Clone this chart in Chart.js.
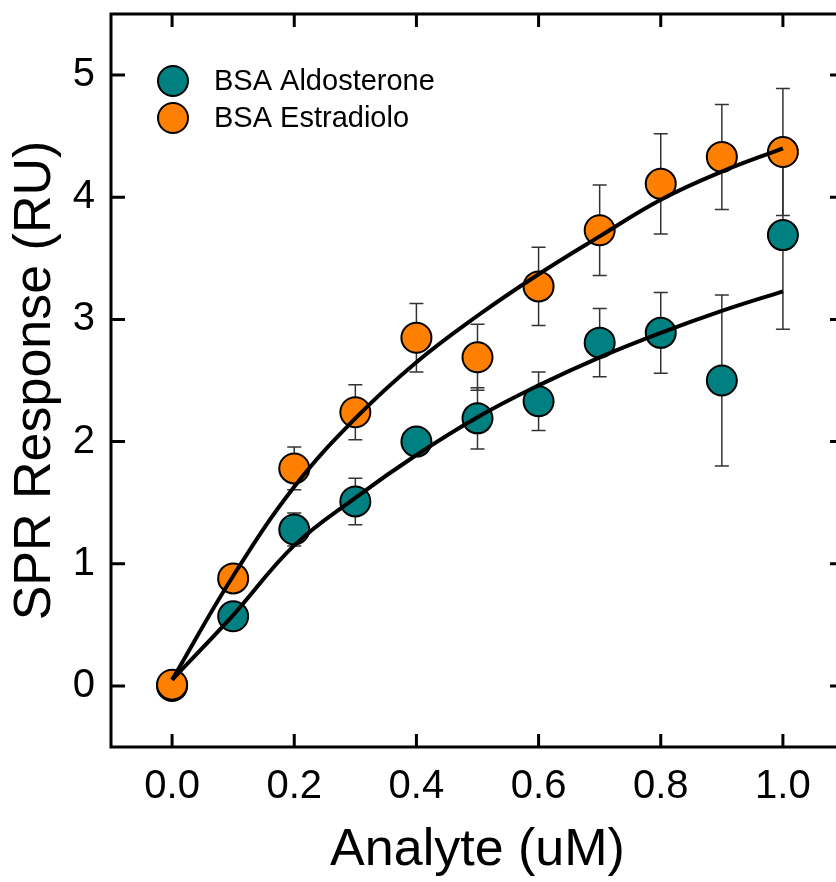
<!DOCTYPE html>
<html>
<head>
<meta charset="utf-8">
<script src="https://cdn.jsdelivr.net/npm/chart.js@4.4.0/dist/chart.umd.min.js"></script>
<style>
  html, body { margin: 0; padding: 0; background: #fff; overflow: hidden; }
  #wrap { width: 850px; height: 882px; }
</style>
</head>
<body>
<div id="wrap"><canvas id="chart" width="850" height="882"></canvas></div>
<script>
// concentrations (uM)
const conc = [0.0, 0.1, 0.2, 0.3, 0.4, 0.5, 0.6, 0.7, 0.8, 0.9, 1.0];

// BSA Aldosterone
const aldo    = [0.00, 0.57, 1.28, 1.51, 2.00, 2.19, 2.33, 2.81, 2.89, 2.50, 3.69];
const aldoErr = [0.04, 0.10, 0.135, 0.19, 0.10, 0.25, 0.24, 0.28, 0.33, 0.70, 0.77];
const aldoFit = [0.05, 0.58, 1.15, 1.54, 1.89, 2.20, 2.46, 2.69, 2.89, 3.07, 3.23];

// BSA Estradiolo
const estr    = [0.01, 0.88, 1.78, 2.24, 2.85, 2.69, 3.27, 3.73, 4.11, 4.33, 4.37];
const estrErr = [0.03, 0.09, 0.175, 0.225, 0.28, 0.27, 0.32, 0.37, 0.41, 0.43, 0.52];
const estrFit = [0.05, 0.90, 1.63, 2.19, 2.65, 3.03, 3.37, 3.68, 3.98, 4.21, 4.40];

const xTicks = [0.0, 0.2, 0.4, 0.6, 0.8, 1.0];
const yTicks = [0, 1, 2, 3, 4, 5];

const FONT = "'Liberation Sans', Arial, sans-serif";
const TEAL = '#008080';
const ORANGE = '#FF8000';

const pts = (xs, ys) => xs.map((x, i) => ({ x: x, y: ys[i] }));

// error bars, drawn under each dataset's markers
const errorBars = {
  id: 'errorBars',
  beforeDatasetDraw(chart, args) {
    const ds = chart.data.datasets[args.index];
    if (!ds.errors) return;
    const ctx = chart.ctx, xs = chart.scales.x, ys = chart.scales.y;
    ctx.save();
    ctx.strokeStyle = '#333';
    ctx.lineWidth = 1.5;
    ds.data.forEach((p, i) => {
      const e = ds.errors[i];
      const px = xs.getPixelForValue(p.x);
      const top = ys.getPixelForValue(p.y + e);
      const bot = ys.getPixelForValue(p.y - e);
      ctx.beginPath();
      ctx.moveTo(px, top); ctx.lineTo(px, bot);
      ctx.moveTo(px - 7, top); ctx.lineTo(px + 7, top);
      ctx.moveTo(px - 7, bot); ctx.lineTo(px + 7, bot);
      ctx.stroke();
    });
    ctx.restore();
  }
};

// box frame with inward ticks on all four sides
const frame = {
  id: 'frame',
  afterDraw(chart) {
    const { ctx, chartArea: a } = chart;
    const xs = chart.scales.x, ys = chart.scales.y;
    ctx.save();
    ctx.strokeStyle = '#000';
    ctx.lineWidth = 3;
    ctx.strokeRect(a.left, a.top, a.right - a.left, a.bottom - a.top);
    ctx.beginPath();
    xTicks.forEach(v => {
      const px = xs.getPixelForValue(v);
      ctx.moveTo(px, a.bottom); ctx.lineTo(px, a.bottom - 13);
      ctx.moveTo(px, a.top); ctx.lineTo(px, a.top + 13);
    });
    yTicks.forEach(v => {
      const py = ys.getPixelForValue(v);
      ctx.moveTo(a.left, py); ctx.lineTo(a.left + 14, py);
      ctx.moveTo(a.right, py); ctx.lineTo(a.right - 14, py);
    });
    ctx.stroke();
    ctx.restore();
  }
};

// legend inside the plot, top left
const legendBox = {
  id: 'legendBox',
  afterDraw(chart) {
    const ctx = chart.ctx;
    const items = chart.data.datasets.filter(d => d.errors);
    ctx.save();
    ctx.font = '29px ' + FONT;
    ctx.textBaseline = 'middle';
    items.forEach((d, i) => {
      const y = 81 + i * 37;
      ctx.beginPath();
      ctx.arc(173, y, 15, 0, Math.PI * 2);
      ctx.fillStyle = d.backgroundColor;
      ctx.fill();
      ctx.lineWidth = 2;
      ctx.strokeStyle = '#000';
      ctx.stroke();
      ctx.fillStyle = '#000';
      ctx.fillText(d.label, 214, y + 1);
    });
    ctx.restore();
  }
};

new Chart(document.getElementById('chart'), {
  type: 'scatter',
  data: {
    datasets: [
      {
        label: 'BSA Aldosterone',
        data: pts(conc, aldo),
        errors: aldoErr,
        backgroundColor: TEAL,
        borderColor: '#000',
        borderWidth: 2,
        pointRadius: 15,
        order: 3
      },
      {
        label: 'BSA Estradiolo',
        data: pts(conc, estr),
        errors: estrErr,
        backgroundColor: ORANGE,
        borderColor: '#000',
        borderWidth: 2,
        pointRadius: 15,
        order: 2
      },
      {
        label: 'fit aldo',
        data: pts(conc, aldoFit),
        showLine: true,
        borderColor: '#000',
        borderWidth: 4,
        pointRadius: 0,
        tension: 0.4,
        order: 1
      },
      {
        label: 'fit estr',
        data: pts(conc, estrFit),
        showLine: true,
        borderColor: '#000',
        borderWidth: 4,
        pointRadius: 0,
        tension: 0.4,
        order: 0
      }
    ]
  },
  options: {
    responsive: false,
    animation: false,
    devicePixelRatio: 1,
    layout: { autoPadding: false, padding: { left: 0, top: 14, right: 6, bottom: 0 } },
    plugins: { legend: { display: false }, tooltip: { enabled: false } },
    scales: {
      x: {
        type: 'linear',
        min: -0.1,
        max: 1.1,
        afterBuildTicks: s => { s.ticks = xTicks.map(v => ({ value: v })); },
        afterFit: s => { s.height = 135; s.paddingLeft = 0; s.paddingRight = 0; },
        grid: { display: false, drawTicks: false },
        border: { display: false },
        ticks: {
          padding: 16,
          color: '#000',
          font: { family: FONT, size: 40 },
          callback: v => Number(v).toFixed(1),
          maxRotation: 0
        },
        title: {
          display: true,
          text: 'Analyte (uM)',
          color: '#000',
          font: { family: FONT, size: 52 },
          padding: { top: 0, bottom: 0 }
        }
      },
      y: {
        type: 'linear',
        min: -0.5,
        max: 5.5,
        afterBuildTicks: s => { s.ticks = yTicks.map(v => ({ value: v })); },
        afterFit: s => { s.width = 111; s.paddingTop = 0; s.paddingBottom = 0; },
        grid: { display: false, drawTicks: false },
        border: { display: false },
        ticks: {
          padding: 16,
          color: '#000',
          font: { family: FONT, size: 40 },
          callback: v => String(v)
        },
        title: {
          display: true,
          text: 'SPR Response (RU)',
          color: '#000',
          font: { family: FONT, size: 52 },
          padding: { top: 4, bottom: 0 }
        }
      }
    }
  },
  plugins: [errorBars, frame, legendBox]
});
</script>
</body>
</html>
